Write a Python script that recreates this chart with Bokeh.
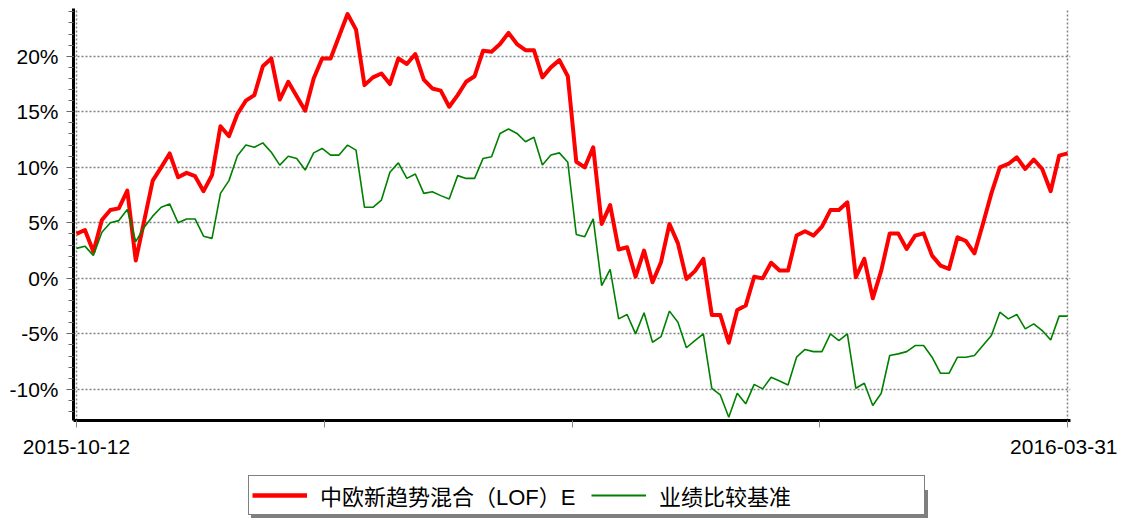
from bokeh.plotting import figure
from bokeh.models import FixedTicker, Legend, LegendItem, Range1d
from bokeh.layouts import column
from bokeh.embed import file_html
from bokeh.resources import INLINE

x_tick_labels = ["2015-10-12", "", "", "", "2016-03-31"]
series_names = ["中欧新趋势混合（LOF）E", "业绩比较基准"]
series_colors = ["#ff0000", "#008000"]
series_widths = [4, 1.6]

fund = [4.0, 4.35, 2.4, 5.25, 6.15, 6.3, 7.9, 1.6, 5.2, 8.8,
        10.0, 11.25, 9.1, 9.5, 9.2, 7.85, 9.3, 13.7, 12.8, 14.8,
        16.0, 16.5, 19.1, 19.8, 16.1, 17.7, 16.4, 15.1, 18.0, 19.8,
        19.8, 21.8, 23.8, 22.4, 17.4, 18.1, 18.45, 17.5, 19.8, 19.3,
        20.2, 17.9, 17.1, 16.9, 15.45, 16.5, 17.7, 18.2, 20.5, 20.4,
        21.1, 22.1, 21.1, 20.55, 20.55, 18.1, 19.0, 19.65, 18.2, 10.5,
        10.0, 11.8, 4.9, 6.6, 2.6, 2.8, 0.15, 2.5, -0.35, 1.45,
        4.9, 3.15, -0.05, 0.65, 1.75, -3.3, -3.3, -5.8, -2.85, -2.45,
        0.15, 0.0, 1.4, 0.7, 0.7, 3.85, 4.25, 3.85, 4.65, 6.15,
        6.15, 6.85, 0.1, 1.75, -1.8, 0.7, 4.05, 4.05, 2.65, 3.85,
        4.05, 2.05, 1.15, 0.85, 3.7, 3.35, 2.25, 4.9, 7.65, 10.0,
        10.3, 10.9, 9.85, 10.7, 9.85, 7.85, 11.05, 11.25]

bench = [2.7, 2.9, 2.05, 4.15, 5.0, 5.2, 6.2, 3.3, 4.6, 5.6,
         6.4, 6.7, 5.0, 5.35, 5.35, 3.8, 3.6, 7.65, 8.8, 11.05,
         12.0, 11.8, 12.2, 11.35, 10.2, 11.0, 10.8, 9.75, 11.3, 11.7,
         11.1, 11.1, 12.0, 11.55, 6.4, 6.4, 7.05, 9.55, 10.4, 9.0,
         9.4, 7.65, 7.8, 7.45, 7.15, 9.25, 9.0, 9.0, 10.8, 10.95,
         13.05, 13.45, 13.05, 12.3, 12.7, 10.2, 11.1, 11.3, 10.45, 3.95,
         3.75, 5.35, -0.65, 0.8, -3.65, -3.25, -5.0, -3.1, -5.75, -5.25,
         -2.95, -3.95, -6.25, -5.6, -5.0, -9.9, -10.5, -12.5, -10.35, -11.3,
         -9.55, -9.95, -8.9, -9.25, -9.6, -7.1, -6.4, -6.6, -6.6, -5.0,
         -5.6, -5.0, -9.9, -9.45, -11.45, -10.35, -6.95, -6.8, -6.6, -6.05,
         -6.05, -7.1, -8.55, -8.55, -7.1, -7.1, -6.95, -6.05, -5.15, -3.05,
         -3.65, -3.25, -4.55, -4.1, -4.7, -5.55, -3.4, -3.4]

y_ticks = [-10, -5, 0, 5, 10, 15, 20]

n = len(fund)
idx = list(range(n))
last = n - 1
x_ticks = [last * k / 4 for k in range(5)]

p = figure(width=1117, height=465, output_backend="svg", toolbar_location=None,
           x_range=Range1d(-0.35, last + 0.34), y_range=Range1d(-12.8, 24.3),
           min_border_left=73, min_border_right=47, min_border_top=8,
           min_border_bottom=45)
p.outline_line_color = None
p.background_fill_color = "white"

p.line(idx, fund, line_color=series_colors[0], line_width=series_widths[0], line_join="round")
p.line(idx, bench, line_color=series_colors[1], line_width=series_widths[1])

FS = "21px"
# y axis
p.yaxis.ticker = FixedTicker(ticks=y_ticks, minor_ticks=list(range(-12, 25)))
p.yaxis.major_label_overrides = {t: f"{t}%" for t in y_ticks}
p.yaxis.axis_line_width = 3
p.yaxis.axis_line_color = "black"
p.yaxis.major_tick_out = 7
p.yaxis.major_tick_in = 0
p.yaxis.minor_tick_out = 5
p.yaxis.minor_tick_in = 0
p.yaxis.major_tick_line_color = "#666666"
p.yaxis.minor_tick_line_color = "#666666"
p.yaxis.major_label_text_font = "Liberation Sans"
p.yaxis.major_label_text_font_size = FS
p.yaxis.major_label_text_color = "black"
p.yaxis.major_label_standoff = 8

# x axis
p.xaxis.ticker = FixedTicker(ticks=x_ticks, minor_ticks=[])
p.xaxis.major_label_overrides = {t: lab for t, lab in zip(x_ticks, x_tick_labels)}
p.xaxis.axis_line_width = 3
p.xaxis.axis_line_color = "black"
p.xaxis.major_tick_out = 7
p.xaxis.major_tick_in = 0
p.xaxis.major_tick_line_color = "#888888"
p.xaxis.major_label_text_font = "Liberation Sans"
p.xaxis.major_label_text_font_size = FS
p.xaxis.major_label_text_color = "black"
p.xaxis.major_label_standoff = 12

# grids
p.ygrid.ticker = FixedTicker(ticks=y_ticks)
p.ygrid.grid_line_color = "#808080"
p.ygrid.grid_line_dash = "2 2"
p.ygrid.grid_line_width = 1.5
p.xgrid.ticker = FixedTicker(ticks=[0, last])
p.xgrid.grid_line_color = "#808080"
p.xgrid.grid_line_dash = "2 2"
p.xgrid.grid_line_width = 1.5

# legend strip (separate figure so the boxed legend is not clipped by the main frame)
lf = figure(width=1117, height=55, output_backend="svg", toolbar_location=None,
            x_range=Range1d(0, 1), y_range=Range1d(0, 1),
            min_border_left=0, min_border_right=0, min_border_top=0, min_border_bottom=0)
lf.axis.visible = False
lf.grid.visible = False
lf.outline_line_color = None

nan = float("nan")
keys = []
for c, w in zip(series_colors, series_widths):
    keys.append(lf.line([nan], [nan], line_color=c, line_width=w + 0.5))

LW = 262
PAD = 3

def make_legend(loc, shadow):
    labels = [" ", " "] if shadow else series_names
    items = [LegendItem(label=lab, renderers=[r]) for lab, r in zip(labels, keys)]
    lg = Legend(items=items, orientation="horizontal", location=loc,
                label_text_font="Liberation Sans, Noto Sans CJK SC",
                label_text_font_size="22px",
                label_text_color="black", glyph_width=55, glyph_height=20,
                label_standoff=13, spacing=9, padding=PAD, margin=0,
                label_width=LW, border_line_color="black", border_line_width=1.5,
                background_fill_color="white", background_fill_alpha=1.0)
    if shadow:
        lg.border_line_color = "#7f7f7f"
        lg.background_fill_color = "#7f7f7f"
    return lg

lf.add_layout(make_legend((178, 2), True), "center")
lf.add_layout(make_legend((175, 5), False), "center")

layout = column(p, lf, spacing=0)
open("out.html", "w").write(file_html(layout, INLINE))
